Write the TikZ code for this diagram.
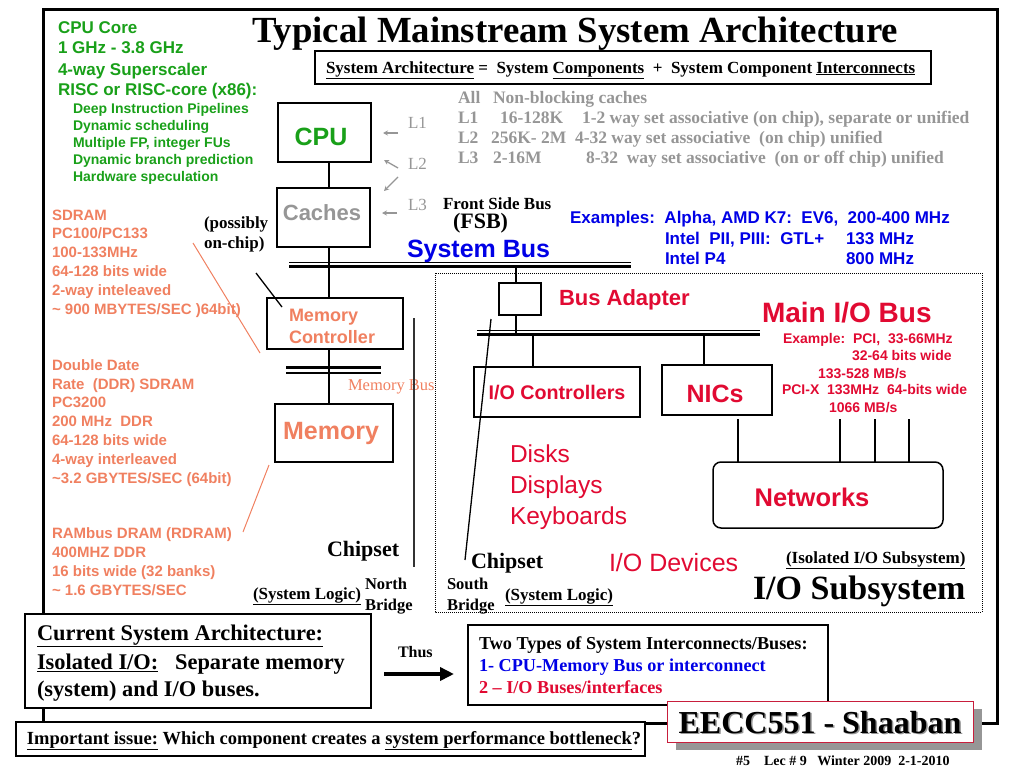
\documentclass[tikz,border=0pt]{standalone}
\usepackage{fontspec}
\setmainfont{Liberation Serif}
\setsansfont{Liberation Sans}
\usetikzlibrary{arrows.meta}
\definecolor{cgreen}{RGB}{25,160,25}
\definecolor{ccoral}{RGB}{240,128,96}
\definecolor{cred}{RGB}{225,10,50}
\definecolor{cblue}{RGB}{0,0,230}
\definecolor{cgrey}{RGB}{150,150,150}
\definecolor{cshadow}{RGB}{150,150,150}
\definecolor{cborder}{RGB}{200,30,60}
\newcommand\fsz[1]{\fontsize{#1pt}{#1pt}\selectfont}
\tikzset{
  every node/.style={inner sep=0pt,outer sep=0pt},
  tx/.style={anchor=base west},
  sfb/.style={font=\sffamily\bfseries\fsz{#1}},
  sfr/.style={font=\sffamily\fsz{#1}},
  rmb/.style={font=\rmfamily\bfseries\fsz{#1}},
  rmr/.style={font=\rmfamily\fsz{#1}},
  box/.style={draw,line width=1.5pt,fill=white},
  link/.style={line width=1.5pt},
  garrow/.style={draw=cgrey,line width=1.3pt,-{Stealth[length=5pt,width=5pt]}},
}
\begin{document}
\begin{tikzpicture}[x=1pt,y=-1pt]
\useasboundingbox (0,0) rectangle (1024,768);
% outer frame
\draw[line width=3pt] (43,10) rectangle (997,723);

% title and subtitle
\node[tx,rmb=36.8] (title) at (252,43) {Typical Mainstream System Architecture};
\node[box,line width=2.5pt,minimum width=616,minimum height=33] (subbox) at (623,67.5) {};
\node[tx,rmb=17] (subtxt) at (326,73) {\underline{System Architecture} =\ \ System \underline{Components}\ \ +\ \ System Component \underline{Interconnects}};

% green CPU text
\node[tx,sfb=17,text=cgreen] (gr1) at (58,34) {CPU Core};
\node[tx,sfb=17,text=cgreen] (gr2) at (58,54) {1 GHz - 3.8 GHz};
\node[tx,sfb=17,text=cgreen] (gr3) at (58,75) {4-way Superscaler};
\node[tx,sfb=17,text=cgreen] (gr4) at (58,95) {RISC or RISC-core (x86):};
\node[tx,sfb=14,text=cgreen] (gr5) at (73,113) {Deep Instruction Pipelines};
\node[tx,sfb=14,text=cgreen] (gr6) at (73,130) {Dynamic scheduling};
\node[tx,sfb=14,text=cgreen] (gr7) at (73,147) {Multiple FP, integer FUs};
\node[tx,sfb=14,text=cgreen] (gr8) at (73,164) {Dynamic branch prediction};
\node[tx,sfb=14,text=cgreen] (gr9) at (73,181) {Hardware speculation};

% coral memory text
\node[tx,sfb=15,text=ccoral] (c1) at (52,220) {SDRAM};
\node[tx,sfb=15,text=ccoral] (c2) at (52,238) {PC100/PC133};
\node[tx,sfb=15,text=ccoral] (c3) at (52,257) {100-133MHz};
\node[tx,sfb=15,text=ccoral] (c4) at (52,276) {64-128 bits wide};
\node[tx,sfb=15,text=ccoral] (c5) at (52,295) {2-way inteleaved};
\node[tx,sfb=15,text=ccoral] (c6) at (52,314) {\textasciitilde\ 900 MBYTES/SEC )64bit)};
\node[tx,sfb=15,text=ccoral] (c7) at (52,370) {Double Date};
\node[tx,sfb=15,text=ccoral] (c8) at (52,389) {Rate\ \ (DDR) SDRAM};
\node[tx,sfb=15,text=ccoral] (c9) at (52,407) {PC3200};
\node[tx,sfb=15,text=ccoral] (c10) at (52,426) {200 MHz\ \ DDR};
\node[tx,sfb=15,text=ccoral] (c11) at (52,445) {64-128 bits wide};
\node[tx,sfb=15,text=ccoral] (c12) at (52,464) {4-way interleaved};
\node[tx,sfb=15,text=ccoral] (c13) at (52,483) {\textasciitilde3.2 GBYTES/SEC (64bit)};
\node[tx,sfb=15,text=ccoral] (c14) at (52,538) {RAMbus DRAM (RDRAM)};
\node[tx,sfb=15,text=ccoral] (c15) at (52,557) {400MHZ DDR};
\node[tx,sfb=15,text=ccoral] (c16) at (52,576) {16 bits wide (32 banks)};
\node[tx,sfb=15,text=ccoral] (c17) at (52,595) {\textasciitilde\ 1.6 GBYTES/SEC};

% coral pointer lines
\coordinate (cl1a) at (193,243); \coordinate (cl1b) at (260,353);
\coordinate (cl2a) at (269,465); \coordinate (cl2b) at (243,532);
\draw[ccoral,line width=1pt] (cl1a) -- (cl1b);
\draw[ccoral,line width=1pt] (cl2a) -- (cl2b);

% CPU side boxes
\node[box,minimum width=93,minimum height=59] (cpu) at (324.5,132.5) {};
\node[sfb=25,text=cgreen] (cputxt) at (321,137) {CPU};
\node[box,minimum width=93,minimum height=59] (caches) at (323.5,217.5) {};
\node[sfb=22,text=cgrey] (cachestxt) at (322,213) {Caches};
\node[box,minimum width=136,minimum height=51] (memctrl) at (335,323.5) {};
\node[tx,sfb=18,text=ccoral] (mc1) at (289,321) {Memory};
\node[tx,sfb=18,text=ccoral] (mc2) at (289,343) {Controller};
\node[box,minimum width=118,minimum height=58] (memory) at (334,433) {};
\node[anchor=base,sfb=25,text=ccoral] (memtxt) at (331,439) {Memory};

% system bus
\coordinate (sbL) at (289,266.5); \coordinate (sbR) at (631,266.5);
\coordinate (sbLt) at (289,262); \coordinate (sbRt) at (631,262);
\draw[line width=3.5pt] (sbL) -- (sbR);
\draw[line width=1pt] (sbLt) -- (sbRt);
% memory bus
\coordinate (mbL1) at (286,367.5); \coordinate (mbR1) at (381,367.5);
\coordinate (mbL2) at (286,373); \coordinate (mbR2) at (381,373);
\draw[line width=2.5pt] (mbL1) -- (mbR1);
\draw[line width=2.5pt] (mbL2) -- (mbR2);
\node[tx,rmr=16.5,text=ccoral] (mbtxt) at (348,390) {Memory Bus};

% vertical links
\draw[link] (cpu.south -| 329,0) -- (caches.north -| 329,0);
\draw[link] (caches.south -| 329,0) -- (memctrl.north -| 329,0);
\draw[link] (memctrl.south -| 329,0) -- (memory.north -| 329,0);

% possibly on-chip
\node[tx,rmb=17] (pos1) at (204,228) {(possibly};
\node[tx,rmb=17] (pos2) at (204,248) {on-chip)};
\coordinate (oc1) at (256,273); \coordinate (oc2) at (282,307);
\draw[line width=1.3pt] (oc1) -- (oc2);

% L labels and arrows
\node[tx,rmr=17,text=cgrey] (l1) at (408,128) {L1};
\node[tx,rmr=17,text=cgrey] (l2) at (408,169) {L2};
\node[tx,rmr=17,text=cgrey] (l3) at (408,210) {L3};
\coordinate (a1s) at (398,133); \coordinate (a1e) at (383,133);
\coordinate (a2s) at (398,168); \coordinate (a2e) at (384,160);
\coordinate (a3s) at (398,177); \coordinate (a3e) at (384,191);
\coordinate (a4s) at (397,213); \coordinate (a4e) at (382,213);
\draw[garrow] (a1s) -- (a1e);
\draw[garrow] (a2s) -- (a2e);
\draw[garrow] (a3s) -- (a3e);
\draw[garrow] (a4s) -- (a4e);

% grey cache table
\node[tx,rmb=17.5,text=cgrey] (t0a) at (458,103) {All};
\node[tx,rmb=17.5,text=cgrey] (t0b) at (493,103) {Non-blocking caches};
\node[tx,rmb=17.5,text=cgrey] (t1a) at (458,123) {L1};
\node[tx,rmb=17.5,text=cgrey] (t1b) at (500,123) {16-128K};
\node[tx,rmb=17.5,text=cgrey] (t1c) at (582,123) {1-2 way set associative (on chip), separate or unified};
\node[tx,rmb=17.5,text=cgrey] (t2a) at (458,143) {L2};
\node[tx,rmb=17.5,text=cgrey] (t2b) at (491,143) {256K- 2M};
\node[tx,rmb=17.5,text=cgrey] (t2c) at (575,143) {4-32 way set associative\ \ (on chip) unified};
\node[tx,rmb=17.5,text=cgrey] (t3a) at (458,163) {L3};
\node[tx,rmb=17.5,text=cgrey] (t3b) at (493,163) {2-16M};
\node[tx,rmb=17.5,text=cgrey] (t3c) at (586,163) {8-32\ \ way set associative\ \ (on or off chip) unified};

% FSB / system bus labels
\node[tx,rmb=17] (fsb1) at (443,209) {Front Side Bus};
\node[tx,rmb=22] (fsb2) at (453,228) {(FSB)};
\node[tx,sfb=25,text=cblue] (sysbus) at (407,257) {System Bus};
\node[tx,sfb=17,text=cblue] (ex1) at (570,223) {Examples:\ \ Alpha, AMD K7:\ \ EV6,\ \ 200-400 MHz};
\node[tx,sfb=17,text=cblue] (ex2) at (665,244) {Intel\ \ PII, PIII:\ \ GTL+};
\node[tx,sfb=17,text=cblue] (ex2b) at (846,244) {133 MHz};
\node[tx,sfb=17,text=cblue] (ex3) at (665,264) {Intel P4};
\node[tx,sfb=17,text=cblue] (ex3b) at (846,264) {800 MHz};

% north bridge
\coordinate (nb1) at (414,318); \coordinate (nb2) at (414,567);
\draw[line width=1.5pt,black!80] (nb1) -- (nb2);
\node[tx,rmb=22] (chip1) at (327,556) {Chipset};
\node[tx,rmb=17] (syslog1) at (253,599) {\underline{(System Logic)}};
\node[tx,rmb=16.5] (north1) at (365,589) {North};
\node[tx,rmb=16.5] (north2) at (365,610) {Bridge};

% I/O subsystem dotted box
\draw[line width=0.8pt,dash pattern=on 1pt off 1pt] (435,273) rectangle (982,612);

\node[box,minimum width=42,minimum height=32] (busad) at (520,299) {};
\node[tx,sfb=22,text=cred] (busadtxt) at (559,305) {Bus Adapter};
\coordinate (ioL1) at (477,334.5); \coordinate (ioR1) at (760,334.5);
\coordinate (ioL2) at (477,330.5); \coordinate (ioR2) at (760,330.5);
\draw[line width=3pt] (ioL1) -- (ioR1);
\draw[line width=1pt] (ioL2) -- (ioR2);
\coordinate (sbtap) at (516,266);
\coordinate (iotap0) at (516,334);
\draw[link] (sbtap) -- (busad.north -| sbtap);
\draw[link] (busad.south -| sbtap) -- (iotap0);

\node[tx,sfb=28,text=cred] (mainio) at (762,322) {Main I/O Bus};
\node[tx,sfb=14,text=cred] (r1) at (783,343) {Example:\ \ PCI,\ \ 33-66MHz};
\node[tx,sfb=14,text=cred] (r2) at (852,360) {32-64 bits wide};
\node[tx,sfb=14,text=cred] (r3) at (818,378) {133-528 MB/s};
\node[tx,sfb=14,text=cred] (r4) at (782,394) {PCI-X\ \ 133MHz\ \ 64-bits wide};
\node[tx,sfb=14,text=cred] (r5) at (829,412) {1066 MB/s};

\node[box,minimum width=166,minimum height=50] (ioctrl) at (557,392) {};
\node[anchor=base,sfb=19.7,text=cred] (ioctrltxt) at (557,399) {I/O Controllers};
\node[box,minimum width=110,minimum height=50] (nics) at (717,390) {};
\node[anchor=base,sfb=25,text=cred] (nicstxt) at (715,402) {NICs};
\coordinate (iotap1) at (533,336); \coordinate (iotap2) at (704,336);
\draw[link] (iotap1) -- (ioctrl.north -| iotap1);
\draw[link] (iotap2) -- (nics.north -| iotap2);

\node[box,rounded corners=8pt,minimum width=230,minimum height=66] (networks) at (828,495) {};
\node[anchor=base,sfb=25.5,text=cred] (nettxt) at (812,506) {Networks};
\coordinate (n0) at (738,419); \coordinate (n1) at (840,419);
\coordinate (n2) at (875,419); \coordinate (n3) at (909,419);
\draw[link] (n0) -- (networks.north -| n0);
\draw[link] (n1) -- (networks.north -| n1);
\draw[link] (n2) -- (networks.north -| n2);
\draw[link] (n3) -- (networks.north -| n3);

\node[tx,sfr=24.5,text=cred] (dev1) at (510,462) {Disks};
\node[tx,sfr=24.5,text=cred] (dev2) at (510,493) {Displays};
\node[tx,sfr=24.5,text=cred] (dev3) at (510,524) {Keyboards};
\node[tx,sfr=25,text=cred] (iodev) at (609,571) {I/O Devices};

% south bridge
\coordinate (sb1) at (491,319); \coordinate (sb2) at (465,560);
\draw[line width=1.3pt] (sb1) -- (sb2);
\node[tx,rmb=22] (chip2) at (471,568) {Chipset};
\node[tx,rmb=16.5] (south1) at (447,589) {South};
\node[tx,rmb=16.5] (south2) at (447,610) {Bridge};
\node[tx,rmb=17] (syslog2) at (505,600) {\underline{(System Logic)}};

\node[tx,rmb=17] (isol) at (786,563) {\underline{(Isolated I/O Subsystem)}};
\node[tx,rmb=34] (iosub) at (753,599) {I/O Subsystem};

% bottom boxes
\node[box,line width=2pt,minimum width=346,minimum height=94] (curbox) at (198,661) {};
\node[tx,rmb=22.4] (cur1) at (37,640) {\underline{Current System Architecture:}};
\node[tx,rmb=22.4] (cur2) at (37,669) {\underline{Isolated I/O:}\ \ \ Separate memory};
\node[tx,rmb=22.4] (cur3) at (37,696) {(system) and I/O buses.};

\node[tx,rmb=16] (thus) at (398,657) {Thus};
\coordinate (th1) at (384,674); \coordinate (th2) at (454,674);
\draw[line width=4pt,-{Triangle[length=14pt 0,width=13pt 0]}] (th1) -- (th2);

\node[box,line width=2.5pt,minimum width=360,minimum height=80] (twobox) at (648,665) {};
\node[tx,rmb=18.2] (two1) at (479,649) {Two Types of System Interconnects/Buses:};
\node[tx,rmb=18.2,text=cblue] (two2) at (479,671) {1- CPU-Memory Bus or interconnect};
\node[tx,rmb=18.2,text=cred] (two3) at (479,693) {2 – I/O Buses/interfaces};

\node[box,line width=2.5pt,minimum width=629,minimum height=34] (impbox) at (330.5,739) {};
\node[tx,rmb=18.5] (imp) at (27,744) {\underline{Important issue:} Which component creates a \underline{system performance bottleneck}?};

\node[fill=cshadow,minimum width=306,minimum height=41] (eeshadow) at (829,729.5) {};
\node[draw=cborder,line width=1pt,fill=white,minimum width=306,minimum height=41] (eebox) at (820,721.5) {};
\node[anchor=base,rmb=32,text=cshadow] (eetxtsh) at (821.5,734.5) {EECC551 - Shaaban};
\node[anchor=base,rmb=32] (eetxt) at (820,733) {EECC551 - Shaaban};
\node[tx,rmb=14] (foot) at (736,765) {\#5\ \ \ \ Lec \# 9\ \ \ Winter 2009\ \ 2-1-2010};
\end{tikzpicture}
\end{document}
